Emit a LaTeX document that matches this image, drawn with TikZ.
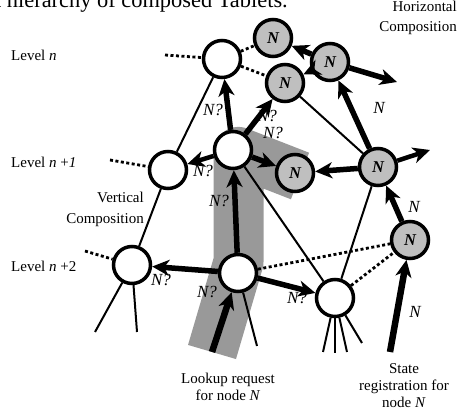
\documentclass[tikz,border=0pt]{standalone}
\usepackage{fontspec}
\setmainfont{Liberation Serif}
\usetikzlibrary{arrows.meta}
\begin{document}
\begin{tikzpicture}[x=1pt,y=-1pt,
  every node/.style={font=\fontsize{15}{17}\selectfont, inner sep=0pt},
  wnode/.style={circle, draw, line width=3.5pt, fill=white, minimum size=37pt},
  gnode/.style={wnode, fill=black!25, font=\fontsize{16.5}{18}\selectfont\bfseries\itshape},
  tline/.style={line width=2pt},
  dotline/.style={line width=2.8pt, dash pattern=on 3pt off 2.5pt},
  bigarrow/.style={line width=5.5pt, -{Stealth[length=17pt,width=16pt,inset=5pt]}},
  lbl/.style={font=\fontsize{17}{19}\selectfont\itshape},
  band/.style={black!40, line width=50pt, line join=round}
]
\useasboundingbox (0,0) rectangle (464,411);

% highlighted lookup path
\draw[band] (212,352) -- (238.5,262) -- (238.5,152) -- (300,176);

% title (cropped at the top edge as in the reference)
\node[anchor=base west, font=\fontsize{22.4}{24}\selectfont] (title) at (-15,8) {A hierarchy of composed Tablets.};

% nodes
\node[wnode] (A) at (222,59) {};
\node[gnode] (N1) at (273,38) {N};
\node[gnode] (N2) at (285,83) {N};
\node[gnode] (N3) at (330,62) {N};
\node[wnode] (B) at (168,170) {};
\node[wnode] (C) at (233,150) {};
\node[gnode] (N4) at (295,173) {N};
\node[gnode] (N5) at (378,167) {N};
\node[gnode] (N6) at (410,240) {N};
\node[wnode] (D) at (132,265) {};
\node[wnode] (E) at (238,273) {};
\node[wnode] (F) at (335,298) {};

% free ends
\coordinate (d1) at (95,332);
\coordinate (d2) at (137,332);
\coordinate (e1) at (257,346);
\coordinate (f1) at (323,352);
\coordinate (f2) at (335,353);
\coordinate (f3) at (347,352);
\coordinate (f4) at (362,343);
\coordinate (la) at (165,55);
\coordinate (lb) at (110,160);
\coordinate (ld) at (85,251);
\coordinate (lk) at (212,352);
\coordinate (sr) at (390,352);
\coordinate (o5) at (430,150);
\coordinate (o3) at (397,82);

% thin links
\draw[tline] (A) -- (B);
\draw[tline] (B) -- (D);
\draw[tline] (C) -- (F);
\draw[tline] (N2) -- (N5);
\draw[tline] (N5) -- (F);
\draw[tline] (D) -- (d1);
\draw[tline] (D) -- (d2);
\draw[tline] (E) -- (e1);
\draw[tline] (F) -- (f1);
\draw[tline] (F) -- (f2);
\draw[tline] (F) -- (f3);
\draw[tline] (F) -- (f4);

% dotted links
\draw[dotline] (la) -- (A);
\draw[dotline] (lb) -- (B);
\draw[dotline] (ld) -- (D);
\draw[dotline] (A) -- (N1);
\draw[dotline] (A) -- (N2);
\draw[dotline] (E) -- (N6);
\draw[dotline] (F) -- (N6);

% message arrows
\draw[bigarrow] (C) -- (A);
\draw[bigarrow] (C) -- (N2);
\draw[bigarrow, line width=4.5pt] (C) -- (B);
\draw[bigarrow] (C) -- (N4);
\draw[bigarrow] (E) -- (C);
\draw[bigarrow] (E) -- (D);
\draw[bigarrow] (E) -- (F);
\draw[bigarrow, line width=6.5pt] (lk) -- (E);
\draw[bigarrow] (N5) -- (N4);
\draw[bigarrow] (N5) -- (N3);
\draw[bigarrow, line width=4.5pt] (N5) -- (o5);
\draw[bigarrow] (N3) -- (N1);
\draw[bigarrow] (N3) -- (N2);
\draw[bigarrow] (N3) -- (o3);
\draw[bigarrow] (N6) -- (N5);
\draw[bigarrow, line width=6.5pt] (sr) -- (N6);

% arrow labels
\node[lbl] (q1) at (213,110) {N?};
\node[lbl] (q2) at (267,116) {N?};
\node[lbl] (q3) at (273,133) {N?};
\node[lbl] (q4) at (203,171) {N?};
\node[lbl] (q5) at (219,201) {N?};
\node[lbl] (q6) at (161,280) {N?};
\node[lbl] (q7) at (207,292) {N?};
\node[lbl] (q8) at (297,298) {N?};
\node[lbl] (n1) at (379,108) {N};
\node[lbl] (n2) at (414,207) {N};
\node[lbl] (n3) at (415,312) {N};

% level labels
\node[anchor=west] (lvl0) at (11,55) {Level \textit{n}};
\node[anchor=west] (lvl1) at (11,162) {Level \textit{n} +\textit{1}};
\node[anchor=west] (lvl2) at (11,266) {Level \textit{n} +2};

% captions
\node[anchor=east, align=right, font=\fontsize{15}{21}\selectfont] (vc) at (144,209) {Vertical\\Composition};
\node[anchor=north east, align=right, font=\fontsize{15}{20}\selectfont] (hc) at (457,1) {Horizontal\\Composition};
\node[align=center, font=\fontsize{15}{17}\selectfont] (lr) at (228,387) {Lookup request\\for node \textit{N}};
\node[align=center, font=\fontsize{15}{17}\selectfont] (st) at (404,386) {State\\registration for\\node \textit{N}};
\end{tikzpicture}
\end{document}
